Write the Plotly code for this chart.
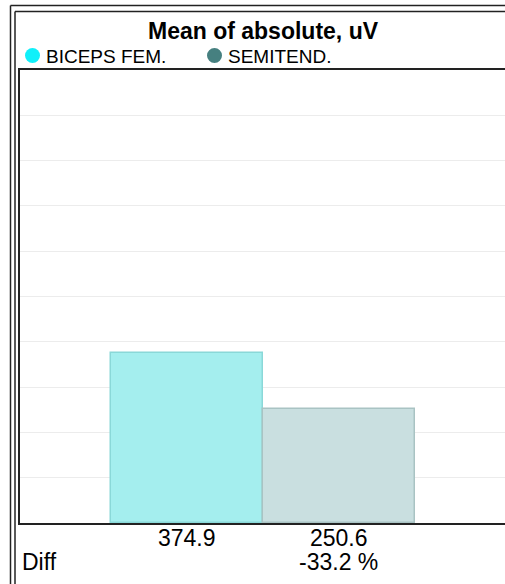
import plotly.graph_objects as go

# ---- data ----
series_names = ["BICEPS FEM.", "SEMITEND."]
series_values = [374.9, 250.6]
legend_colors = ["#10f0fa", "#468080"]
bar_fill = ["#a4eeee", "#c9dfe0"]
bar_line = ["#8ad8d8", "#a9c3c3"]
chart_title = "Mean of absolute, uV"
diff_label = "Diff"
y_max = 1000
y_step = 100

W, H = 520, 584
L, R, T, B = 20, 14, 70, 61
PW = W - L - R
PH = H - T - B

def px2paper_x(px):
    return (px - L) / PW

def py2paper_y(py):
    return (H - B - py) / PH

fig = go.Figure()
for i, (n, v) in enumerate(zip(series_names, series_values)):
    fig.add_trace(go.Bar(
        x=[i], y=[v], width=1, name=n,
        marker=dict(color=bar_fill[i], line=dict(color=bar_line[i], width=1.5)),
        showlegend=False, hoverinfo="skip",
    ))

font = "Arial, Liberation Sans, sans-serif"
ann = []
# title
ann.append(dict(text="<b>" + chart_title + "</b>", xref="paper", yref="paper",
                x=px2paper_x(263), y=py2paper_y(31), xanchor="center", yanchor="middle",
                showarrow=False, font=dict(family=font, size=23, color="#000")))
# legend
legend_x = [32.5, 214.5]
shapes = []
for i, n in enumerate(series_names):
    cx = legend_x[i]
    shapes.append(dict(type="circle", xref="paper", yref="paper",
                       x0=px2paper_x(cx - 7.5), x1=px2paper_x(cx + 7.5),
                       y0=py2paper_y(55.5 + 7.5), y1=py2paper_y(55.5 - 7.5),
                       fillcolor=legend_colors[i], line=dict(width=0)))
    ann.append(dict(text=n, xref="paper", yref="paper", x=px2paper_x(cx + 11),
                    y=py2paper_y(56), xanchor="left", yanchor="middle", showarrow=False,
                    font=dict(family=font, size=19, color="#000")))
# value labels
for i, v in enumerate(series_values):
    ann.append(dict(text=f"{v:.1f}", xref="x", yref="paper", x=i,
                    y=py2paper_y(538), xanchor="center", yanchor="middle", showarrow=False,
                    font=dict(family=font, size=23, color="#000")))
diff_pct = (series_values[1] - series_values[0]) / series_values[0] * 100
ann.append(dict(text=diff_label, xref="paper", yref="paper", x=px2paper_x(20),
                y=py2paper_y(562), xanchor="left", yanchor="middle", showarrow=False,
                font=dict(family=font, size=23, color="#000")))
ann.append(dict(text=f"{diff_pct:.1f} %", xref="x", yref="paper", x=1,
                y=py2paper_y(562), xanchor="center", yanchor="middle", showarrow=False,
                font=dict(family=font, size=23, color="#000")))

# double frame lines
for xx in [10.5, 15]:
    shapes.append(dict(type="line", xref="paper", yref="paper",
                       x0=px2paper_x(xx), x1=px2paper_x(xx),
                       y0=py2paper_y(600), y1=py2paper_y(5.5 if xx == 10.5 else 11.5),
                       line=dict(color="#222", width=1.5)))
for yy, xs in [(5.5, 10.5), (11.5, 15)]:
    shapes.append(dict(type="line", xref="paper", yref="paper",
                       x0=px2paper_x(xs), x1=1.0,
                       y0=py2paper_y(yy), y1=py2paper_y(yy),
                       line=dict(color="#222", width=1.5)))

fig.update_layout(
    width=W, height=H,
    margin=dict(l=L, r=R, t=T, b=B, pad=0),
    paper_bgcolor="white", plot_bgcolor="white",
    barmode="overlay", bargap=0,
    showlegend=False,
    annotations=ann, shapes=shapes,
    xaxis=dict(range=[-1.1, 2.1], showticklabels=False, ticks="", showgrid=False,
               zeroline=False, showline=True, mirror=True, linecolor="#222", linewidth=2),
    yaxis=dict(range=[0, y_max], dtick=y_step, showticklabels=False, ticks="",
               showgrid=True, gridcolor="#ececec", gridwidth=1, zeroline=False,
               showline=True, mirror=False, linecolor="#222", linewidth=2),
)

fig.write_html("out.html", config={"displayModeBar": False},
               post_script="document.documentElement.style.overflow='hidden';"
                           "document.body.style.margin='0px';document.body.style.overflow='hidden';")
